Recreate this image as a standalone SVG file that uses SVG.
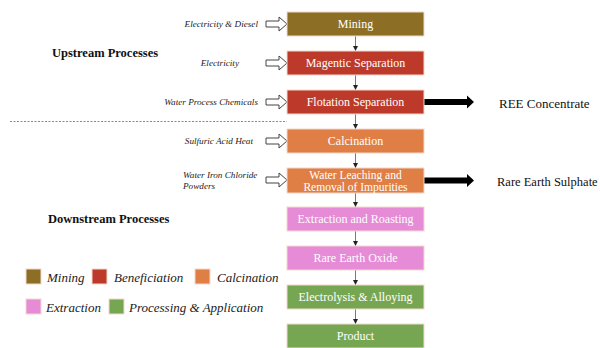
<svg xmlns="http://www.w3.org/2000/svg" width="600" height="348" viewBox="0 0 600 348">
<style>
.box{stroke:#f4d8cc;stroke-width:1}
.mining{fill:#8c6f25}
.benef{fill:#bd3a2a}
.calc{fill:#e07f45}
.extr{fill:#e68bd6}
.proc{fill:#77a652}
.bt{font-family:"Liberation Serif",serif;font-size:12px;fill:#ffffff;text-anchor:middle;dominant-baseline:central}
.bt2{font-family:"Liberation Serif",serif;font-size:11.5px;fill:#ffffff;text-anchor:middle}
.in{font-family:"Liberation Serif",serif;font-size:9.2px;font-style:italic;fill:#222}
.hd{font-family:"Liberation Serif",serif;font-size:12.5px;font-weight:bold;fill:#111}
.out{font-family:"Liberation Serif",serif;font-size:13px;fill:#111;dominant-baseline:central}
.lg{font-family:"Liberation Serif",serif;font-size:13px;font-style:italic;fill:#222;dominant-baseline:central}
.hollow{fill:#fff;stroke:#444;stroke-width:1}
.conn{stroke:#555;stroke-width:0.8;fill:none}
</style>
<defs>
<marker id="ah" markerWidth="6" markerHeight="6" refX="5" refY="3" orient="auto" markerUnits="userSpaceOnUse">
<path d="M0,0.5 L5,3 L0,5.5 Z" fill="#222"/>
</marker>
</defs>
<rect width="600" height="348" fill="#ffffff"/>

<g id="headers">
<text class="hd" x="52" y="57">Upstream Processes</text>
<text class="hd" x="48" y="223">Downstream Processes</text>
<line x1="10" y1="121.5" x2="287" y2="121.5" stroke="#888" stroke-width="1" stroke-dasharray="2,1.5"/>
</g>

<g id="connectors">
<line class="conn" x1="355.5" y1="36" x2="355.5" y2="51" marker-end="url(#ah)"/>
<line class="conn" x1="355.5" y1="75" x2="355.5" y2="90" marker-end="url(#ah)"/>
<line class="conn" x1="355.5" y1="114" x2="355.5" y2="129" marker-end="url(#ah)"/>
<line class="conn" x1="355.5" y1="153" x2="355.5" y2="168" marker-end="url(#ah)"/>
<line class="conn" x1="355.5" y1="193" x2="355.5" y2="207" marker-end="url(#ah)"/>
<line class="conn" x1="355.5" y1="231" x2="355.5" y2="246" marker-end="url(#ah)"/>
<line class="conn" x1="355.5" y1="270" x2="355.5" y2="285" marker-end="url(#ah)"/>
<line class="conn" x1="355.5" y1="309" x2="355.5" y2="324" marker-end="url(#ah)"/>
<path class="hollow" d="M266,21 L279,21 L279,17 L287,24 L279,31 L279,27 L266,27 Z"/>
<path class="hollow" d="M266,60 L279,60 L279,56 L287,63 L279,70 L279,66 L266,66 Z"/>
<path class="hollow" d="M266,99 L279,99 L279,95 L287,102 L279,109 L279,105 L266,105 Z"/>
<path class="hollow" d="M266,138 L279,138 L279,134 L287,141 L279,148 L279,144 L266,144 Z"/>
<path class="hollow" d="M266,177 L279,177 L279,173 L287,180 L279,187 L279,183 L266,183 Z"/>
<path d="M424,99 L467,99 L467,95.5 L474,102 L467,108.5 L467,105 L424,105 Z" fill="#000"/>
<path d="M424,177.5 L467,177.5 L467,174 L474,180.5 L467,187 L467,183.5 L424,183.5 Z" fill="#000"/>
</g>

<g id="inputs">
<text class="in" x="258" y="27" text-anchor="end">Electricity &amp; Diesel</text>
<text class="in" x="239" y="66" text-anchor="end">Electricity</text>
<text class="in" x="258" y="105" text-anchor="end">Water Process Chemicals</text>
<text class="in" x="253" y="144" text-anchor="end">Sulfuric Acid Heat</text>
<text class="in" x="183" y="178">Water Iron Chloride</text>
<text class="in" x="183" y="189">Powders</text>
</g>

<g id="outputs">
<text class="out" x="499" y="103">REE Concentrate</text>
<text class="out" x="497" y="182" style="font-size:12.5px">Rare Earth Sulphate</text>
</g>

<g id="node-mining"><rect class="box mining" x="287" y="12" width="137" height="24"/><text class="bt" x="355.5" y="24">Mining</text></g>
<g id="node-magnetic"><rect class="box benef" x="287" y="51" width="137" height="24"/><text class="bt" x="355.5" y="63">Magentic Separation</text></g>
<g id="node-flotation"><rect class="box benef" x="287" y="90" width="137" height="24"/><text class="bt" x="355.5" y="102">Flotation Separation</text></g>
<g id="node-calcination"><rect class="box calc" x="287" y="129" width="137" height="24"/><text class="bt" x="355.5" y="141">Calcination</text></g>
<g id="node-leaching"><rect class="box calc" x="287" y="168" width="137" height="25"/><text class="bt2" x="355.5" y="179">Water Leaching and</text><text class="bt2" x="355.5" y="190.5">Removal of Impurities</text></g>
<g id="node-extraction"><rect class="box extr" x="287" y="207" width="137" height="24"/><text class="bt" x="355.5" y="219">Extraction and Roasting</text></g>
<g id="node-oxide"><rect class="box extr" x="287" y="246" width="137" height="24"/><text class="bt" x="355.5" y="258">Rare Earth Oxide</text></g>
<g id="node-electrolysis"><rect class="box proc" x="287" y="285" width="137" height="24"/><text class="bt" x="355.5" y="297">Electrolysis &amp; Alloying</text></g>
<g id="node-product"><rect class="box proc" x="287" y="324" width="137" height="24"/><text class="bt" x="355.5" y="336">Product</text></g>

<g id="legend">
<rect class="box mining" x="26" y="269" width="15" height="15"/><text class="lg" x="47" y="277">Mining</text>
<rect class="box benef" x="92" y="269" width="15" height="15"/><text class="lg" x="114" y="277">Beneficiation</text>
<rect class="box calc" x="195" y="269" width="15" height="15"/><text class="lg" x="217" y="277">Calcination</text>
<rect class="box extr" x="26" y="299" width="15" height="15"/><text class="lg" x="46" y="307">Extraction</text>
<rect class="box proc" x="109" y="299" width="15" height="15"/><text class="lg" x="129" y="307">Processing &amp; Application</text>
</g>
</svg>
